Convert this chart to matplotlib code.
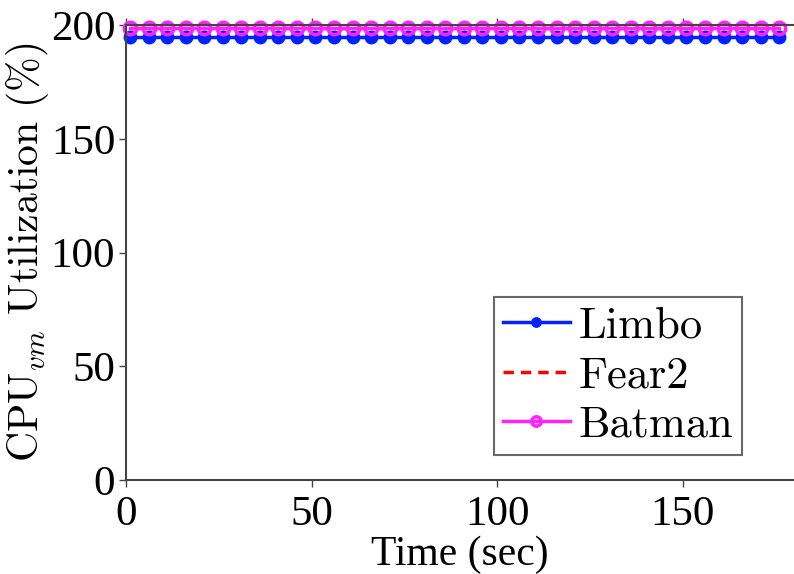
import numpy as np
import matplotlib
matplotlib.use('Agg')
import matplotlib.pyplot as plt

plt.rcParams['mathtext.fontset'] = 'cm'

time = np.arange(1, 177, 5)
limbo = [195.0] * len(time)
fear2 = [199.0] * len(time)
batman = [199.0] * len(time)

fig = plt.figure(figsize=(7.94, 5.74), dpi=100)
ax = fig.add_axes([0.159, 0.164, 0.841, 0.792])

ax.plot(time, limbo, color='#0022ff', lw=2.5, marker='o', ms=9,
        label='Limbo', clip_on=False)
ax.plot(time, fear2, color='#ff0000', lw=2.5, ls=(0, (3, 2)),
        label='Fear2', clip_on=False)
ax.plot(time, batman, color='#ff22ff', lw=2.5, marker='o', ms=9,
        mfc='none', mew=2.5, label='Batman', clip_on=False)

ax.set_xlim(0, 180)
ax.set_ylim(0, 200)
ax.set_xticks([0, 50, 100, 150])
ax.set_yticks([0, 50, 100, 150, 200])

for s in ['left', 'bottom', 'top']:
    ax.spines[s].set_color('#444444')
    ax.spines[s].set_linewidth(1.5)
ax.spines['right'].set_visible(False)

ax.tick_params(axis='both', direction='out', length=5, width=1, color='#444444',
               labelsize=31, top=True)
ax.tick_params(axis='x', pad=6)
ax.tick_params(axis='y', pad=3)
for lab in ax.get_xticklabels() + ax.get_yticklabels():
    lab.set_fontfamily('Liberation Serif')

ax.set_xlabel('Time (sec)', fontsize=30, family='Liberation Serif', labelpad=1)
ax.set_ylabel('CPU$_{vm}$ Utilization (%)', fontsize=30, family='cmr10', labelpad=0)

leg = ax.legend(loc='lower right', bbox_to_anchor=(0.922, 0.055), numpoints=1,
                prop={'family': 'cmr10', 'size': 32}, fancybox=False,
                handlelength=1.5, handletextpad=0.2, borderpad=0.2,
                labelspacing=0.22, markerscale=0.75, borderaxespad=0)
leg.get_frame().set_edgecolor('#444444')
leg.get_frame().set_linewidth(1.5)

plt.savefig('out.png', dpi=100)
plt.close()
